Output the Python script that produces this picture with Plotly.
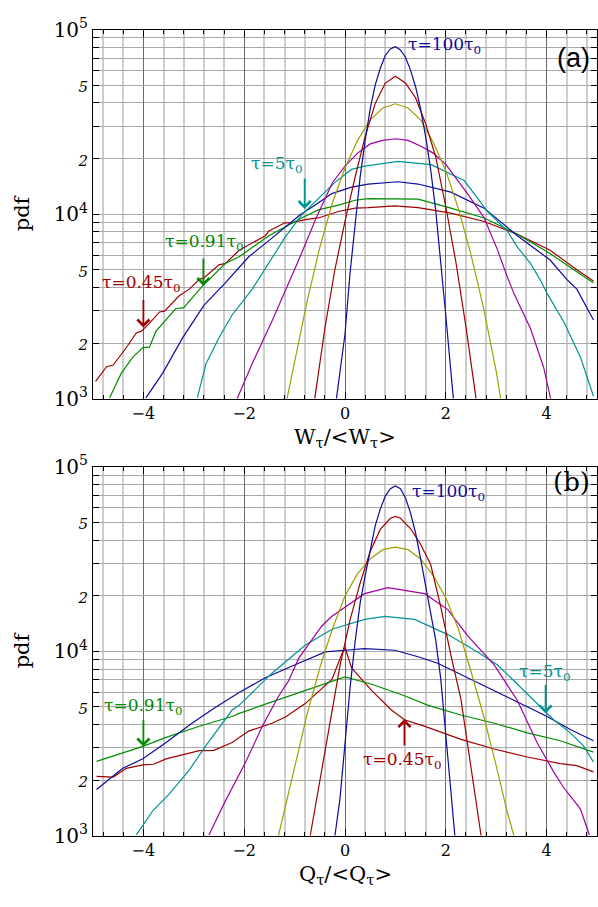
import plotly.graph_objects as go

# -----------------------------
# values (pdf vs W/<W> and Q/<Q>)
# -----------------------------
# panel (a)
wa_045_x = [-4.95, -4.73, -4.6, -4.37, -4.14, -4.04, -3.91, -3.68, -3.58, -3.29, -3.09, -2.89, -2.8, -2.5, -2.37, -2.1, -1.58, -1.51, -1.19, -1.05, -0.79, -0.53, -0.13, 0.2, 0.46, 0.99, 1.45, 2.1, 2.76, 3.42, 4.07, 4.6, 4.93]
wa_045_y = [1240, 1490, 1520, 1840, 2270, 2320, 2510, 2950, 2980, 3610, 3920, 4430, 4510, 5310, 5410, 6370, 7640, 8110, 8970, 9000, 9330, 9530, 10330, 10770, 10840, 11070, 10840, 10120, 9120, 7780, 6370, 4990, 4340]
wa_091_x = [-4.67, -4.44, -4.21, -4.01, -3.88, -3.75, -3.36, -3.2, -2.83, -2.37, -2.1, -1.51, -0.86, -0.53, -0.13, 0.2, 0.46, 0.99, 1.45, 2.1, 2.76, 3.42, 4.07, 4.73, 4.93]
wa_091_y = [1010, 1370, 1680, 1890, 1900, 2320, 3070, 3110, 4075, 5410, 5870, 7640, 9530, 10540, 11190, 11890, 12130, 12140, 12050, 10770, 9530, 7780, 6110, 4600, 4250]
wa_2_x = [-3.95, -3.62, -3.22, -2.8, -2.37, -1.91, -1.51, -1.19, -0.89, -0.59, -0.26, 0.13, 0.46, 1.05, 1.45, 2.1, 2.76, 3.42, 4.07, 4.4, 4.6, 4.93]
wa_2_y = [1010, 1370, 2140, 3200, 4250, 5870, 7180, 8440, 9910, 11190, 12910, 14000, 14550, 14970, 14550, 13150, 10770, 7640, 5640, 4430, 3920, 2670]
wa_5_x = [-2.93, -2.76, -2.5, -2.24, -1.84, -1.48, -1.19, -0.86, -0.53, -0.2, 0.13, 0.39, 1.05, 1.71, 2.37, 2.83, 3.22, 3.42, 3.68, 3.88, 4.01, 4.34, 4.67, 4.93]
wa_5_y = [1010, 1540, 2140, 2840, 3920, 5600, 7480, 9910, 12140, 14860, 17460, 18190, 19320, 18540, 15150, 10330, 8110, 6620, 5410, 4370, 3720, 2610, 1680, 1030]
wa_10_x = [-2.14, -1.84, -1.45, -1.12, -0.92, -0.57, -0.25, 0.0, 0.25, 0.5, 0.75, 1.0, 1.25, 1.5, 1.75, 2.0, 2.25, 2.43, 2.76, 3.02, 3.22, 3.35, 3.68, 3.94, 4.08]
wa_10_y = [1000, 1550, 2630, 4170, 5620, 9550, 14790, 18200, 21400, 24000, 25100, 25600, 25100, 23400, 21400, 18600, 15100, 12900, 9550, 6460, 4570, 3720, 2400, 1480, 1000]
wa_20_x = [-1.15, -1.0, -0.75, -0.5, -0.25, 0.0, 0.25, 0.5, 0.75, 1.0, 1.25, 1.5, 1.75, 2.0, 2.25, 2.5, 2.75, 3.0, 3.09]
wa_20_y = [1000, 1585, 3390, 6610, 11480, 17780, 25100, 32400, 37600, 39600, 37600, 32400, 24500, 17200, 10700, 6030, 3090, 1410, 1000]
wa_50_x = [-0.6, -0.4, -0.2, 0.0, 0.2, 0.4, 0.6, 0.8, 1.0, 1.2, 1.4, 1.6, 1.8, 2.0, 2.2, 2.4, 2.6]
wa_50_y = [1000, 2400, 5010, 9120, 15850, 26300, 39800, 51300, 55900, 51300, 42700, 30900, 20400, 10960, 5500, 2450, 1000]
wa_100_x = [-0.17, -0.1, 0.0, 0.1, 0.2, 0.3, 0.4, 0.5, 0.6, 0.7, 0.8, 0.9, 1.0, 1.1, 1.2, 1.3, 1.4, 1.5, 1.6, 1.7, 1.8, 1.9, 2.0, 2.1, 2.15]
wa_100_y = [1000, 1410, 2240, 4790, 8910, 15850, 25100, 37150, 50100, 61700, 72400, 78500, 80700, 77600, 70800, 60300, 49000, 37150, 26300, 17400, 10470, 5620, 2820, 1410, 1000]

# panel (b)
qb_045_x = [-4.93, -4.6, -4.34, -4.01, -3.8, -3.55, -2.89, -2.6, -2.24, -1.91, -1.45, -1.18, -0.79, -0.26, -0.07, 0.0, 0.13, 0.53, 0.92, 1.18, 1.6, 2.3, 2.96, 3.62, 4.27, 4.6, 4.93]
qb_045_y = [2100, 2080, 2320, 2420, 2440, 2610, 2890, 2900, 3200, 3690, 4070, 4400, 5200, 7030, 9530, 10500, 8110, 6110, 4800, 4250, 3900, 3330, 2950, 2670, 2460, 2400, 2220]
qb_091_x = [-4.93, -4.34, -4.01, -3.55, -2.89, -2.24, -2.1, -1.45, -0.79, -0.39, 0.0, 0.53, 1.18, 1.65, 2.3, 2.96, 3.62, 4.27, 4.93]
qb_091_y = [2530, 2840, 3050, 3410, 3920, 4430, 4600, 5310, 6110, 6620, 7250, 6620, 5740, 5090, 4510, 4070, 3610, 3270, 2840]
qb_2_x = [-4.93, -4.41, -4.01, -3.55, -3.03, -2.56, -2.1, -1.58, -0.92, -0.39, 0.0, 0.39, 0.99, 1.45, 1.84, 2.3, 2.96, 3.62, 4.01, 4.47, 4.93]
qb_2_y = [1780, 2320, 2610, 3200, 4080, 4990, 5980, 7180, 8610, 9910, 10120, 10330, 10120, 9330, 8610, 7480, 6110, 4990, 4430, 3760, 3270]
qb_5_x = [-4.14, -3.81, -3.49, -3.09, -2.76, -2.24, -2.1, -1.45, -0.79, -0.26, 0.39, 0.79, 1.38, 2.04, 2.63, 3.02, 3.29, 3.81, 4.14, 4.47, 4.73, 4.93]
qb_5_y = [1010, 1370, 1680, 2270, 3080, 4800, 5090, 7600, 10770, 13150, 14860, 15450, 14860, 12300, 9910, 8440, 7180, 5200, 4250, 3610, 3080, 2510]
qb_10_x = [-2.7, -2.37, -1.97, -1.64, -1.32, -1.12, -0.92, -0.46, -0.26, 0.39, 0.85, 1.58, 2.04, 2.43, 2.96, 3.42, 3.81, 4.14, 4.34, 4.67, 4.85]
qb_10_y = [1010, 1550, 2510, 3920, 5700, 6900, 9140, 13700, 15450, 20500, 22100, 20500, 16800, 12140, 8430, 5410, 3200, 2220, 1820, 1400, 1010]
qb_20_x = [-1.32, -1.0, -0.75, -0.5, -0.25, 0.0, 0.25, 0.5, 0.75, 1.0, 1.25, 1.5, 1.75, 2.0, 2.25, 2.5, 2.75, 3.0, 3.2, 3.35]
qb_20_y = [1000, 2400, 4570, 8130, 13180, 19950, 26300, 31600, 35500, 36600, 35500, 31600, 25700, 19500, 13180, 7760, 4470, 2400, 1410, 1000]
qb_50_x = [-0.69, -0.5, -0.3, -0.1, 0.1, 0.3, 0.5, 0.7, 0.9, 1.0, 1.1, 1.3, 1.5, 1.7, 1.9, 2.1, 2.3, 2.5, 2.7]
qb_50_y = [1000, 2000, 4170, 8320, 14790, 23400, 34700, 45700, 52500, 53700, 52500, 46200, 38000, 29500, 17400, 9550, 5500, 2400, 1000]
qb_100_x = [-0.2, -0.1, 0.0, 0.1, 0.2, 0.3, 0.4, 0.5, 0.6, 0.7, 0.8, 0.9, 1.0, 1.1, 1.2, 1.3, 1.4, 1.5, 1.6, 1.7, 1.8, 1.9, 2.0, 2.1, 2.18]
qb_100_y = [1000, 1585, 3160, 6310, 11220, 18200, 25700, 35500, 47900, 58900, 69200, 75900, 78500, 75900, 67600, 56200, 43700, 31600, 22400, 15850, 11480, 7080, 3550, 1780, 1000]

RED = '#a00000'
GREEN = '#008c00'
BLUE = '#0c0c9c'
TEAL = '#009494'
PURPLE = '#a000a0'
OLIVE = '#a0a000'
SERIF = 'DejaVu Serif'

panel_a = [(wa_045_x, wa_045_y, RED), (wa_091_x, wa_091_y, GREEN), (wa_2_x, wa_2_y, BLUE),
           (wa_5_x, wa_5_y, TEAL), (wa_10_x, wa_10_y, PURPLE), (wa_20_x, wa_20_y, OLIVE),
           (wa_50_x, wa_50_y, RED), (wa_100_x, wa_100_y, BLUE)]
panel_b = [(qb_045_x, qb_045_y, RED), (qb_091_x, qb_091_y, GREEN), (qb_2_x, qb_2_y, BLUE),
           (qb_5_x, qb_5_y, TEAL), (qb_10_x, qb_10_y, PURPLE), (qb_20_x, qb_20_y, OLIVE),
           (qb_50_x, qb_50_y, RED), (qb_100_x, qb_100_y, BLUE)]

fig = go.Figure()
for xs, ys, c in panel_a:
    fig.add_trace(go.Scatter(x=xs, y=ys, mode='lines', line=dict(color=c, width=1.2),
                             xaxis='x', yaxis='y', showlegend=False, hoverinfo='skip'))
for xs, ys, c in panel_b:
    fig.add_trace(go.Scatter(x=xs, y=ys, mode='lines', line=dict(color=c, width=1.2),
                             xaxis='x2', yaxis='y2', showlegend=False, hoverinfo='skip'))

# -----------------------------
# axes
# -----------------------------
H = 907.0
W = 598.0
L = 93.0
ytick_vals = [1000, 2000, 5000, 10000, 20000, 50000, 100000]
ytick_text = ['10<sup>3</sup>', '<span style="font-size:15px"><i>2</i></span>',
              '<span style="font-size:15px"><i>5</i></span>', '10<sup>4</sup>',
              '<span style="font-size:15px"><i>2</i></span>',
              '<span style="font-size:15px"><i>5</i></span>', '10<sup>5</sup>']

xaxis_common = dict(range=[-5, 5], dtick=2, tick0=0, showgrid=True, gridcolor='#6a6a6a', gridwidth=1,
                    zeroline=False, showline=True, linecolor='black', linewidth=1, mirror='ticks',
                    ticks='inside', ticklen=7, tickcolor='black',
                    minor=dict(dtick=0.4, tick0=0, showgrid=True, gridcolor='#cdcdcd', gridwidth=1.6,
                               ticks='inside', ticklen=4, tickcolor='black'),
                    tickfont=dict(family=SERIF, size=16, color='black'), fixedrange=True)
yaxis_common = dict(type='log', range=[3, 5], tickvals=ytick_vals, ticktext=ytick_text,
                    showgrid=True, gridcolor='#a8a8a8', gridwidth=1, zeroline=False,
                    showline=True, linecolor='black', linewidth=1, mirror='ticks',
                    ticks='inside', ticklen=6, tickcolor='black',
                    minor=dict(dtick='D1', showgrid=True, gridcolor='#a8a8a8', gridwidth=1,
                               ticks='inside', ticklen=6, tickcolor='black'),
                    tickfont=dict(family=SERIF, size=20, color='black'), fixedrange=True)

fig.update_layout(
    width=598, height=907,
    margin=dict(l=93, r=0, t=0, b=0),
    paper_bgcolor='white', plot_bgcolor='white',
    xaxis=dict(xaxis_common, domain=[0, 1], anchor='y'),
    yaxis=dict(yaxis_common, domain=[(H - 396) / H, (H - 16) / H], anchor='x'),
    xaxis2=dict(xaxis_common, domain=[0, 1], anchor='y2'),
    yaxis2=dict(yaxis_common, domain=[(H - 846) / H, (H - 466) / H], anchor='x2'),
)

# dark line at 10^4
for xr, yr in [('x', 'y'), ('x2', 'y2')]:
    fig.add_shape(type='line', xref=xr + ' domain', yref=yr, x0=0, x1=1, y0=4, y1=4,
                  line=dict(color='#555555', width=1), layer='below')

# -----------------------------
# labels and arrows
# -----------------------------
def label(text, x, ly, color, xr, yr, size=17):
    fig.add_annotation(text=text, x=x, y=ly, xref=xr, yref=yr, xanchor='left', yanchor='middle',
                       showarrow=False, font=dict(family=SERIF, size=size, color=color))

def arrow(x, ly, dy, color, xr, yr):
    fig.add_annotation(text='', x=x, y=ly, xref=xr, yref=yr, showarrow=True, ax=0, ay=dy,
                       arrowhead=4, arrowsize=1.3, arrowwidth=1.8, arrowcolor=color)

tau = '\u03c4'
label(f'{tau}=100{tau}<sub>0</sub>', 1.21, 4.911, BLUE, 'x', 'y')
label(f'{tau}=5{tau}<sub>0</sub>', -1.91, 4.268, TEAL, 'x', 'y')
label(f'{tau}=0.91{tau}<sub>0</sub>', -3.62, 3.847, GREEN, 'x', 'y')
label(f'{tau}=0.45{tau}<sub>0</sub>', -4.87, 3.625, RED, 'x', 'y')
arrow(-0.80, 4.028, -32, TEAL, 'x', 'y')
arrow(-2.81, 3.611, -29, GREEN, 'x', 'y')
arrow(-4.0, 3.386, -29, RED, 'x', 'y')

label(f'{tau}=100{tau}<sub>0</sub>', 1.28, 4.86, BLUE, 'x2', 'y2')
label(f'{tau}=5{tau}<sub>0</sub>', 3.42, 3.883, TEAL, 'x2', 'y2')
label(f'{tau}=0.91{tau}<sub>0</sub>', -4.83, 3.698, GREEN, 'x2', 'y2')
label(f'{tau}=0.45{tau}<sub>0</sub>', 0.32, 3.409, RED, 'x2', 'y2')
arrow(3.98, 3.663, -30, TEAL, 'x2', 'y2')
arrow(-4.0, 3.484, -28, GREEN, 'x2', 'y2')
arrow(1.18, 3.632, 28, RED, 'x2', 'y2')

fig.add_annotation(text='(a)', x=0.99, y=(H - 45) / H, xref='paper', yref='paper', xanchor='right',
                   yanchor='middle', showarrow=False, font=dict(family='Liberation Sans', size=27, color='black'))
fig.add_annotation(text='(b)', x=0.99, y=(H - 482) / H, xref='paper', yref='paper', xanchor='right',
                   yanchor='middle', showarrow=False, font=dict(family=SERIF, size=26, color='black'))

# axis titles (paper x is measured over the plot width, so convert from page pixels)
for yc in [205, 655]:
    fig.add_annotation(text='pdf', x=(22 - L) / (W - L), y=(H - yc) / H, xref='paper', yref='paper',
                       textangle=-90, xanchor='center', yanchor='middle', showarrow=False,
                       font=dict(family=SERIF, size=21, color='black'))
fig.add_annotation(text='W<sub>' + tau + '</sub>/&lt;W<sub>' + tau + '</sub>&gt;', x=0.5, y=(H - 436) / H,
                   xref='paper', yref='paper', xanchor='center', yanchor='middle', showarrow=False,
                   font=dict(family=SERIF, size=21, color='black'))
fig.add_annotation(text='Q<sub>' + tau + '</sub>/&lt;Q<sub>' + tau + '</sub>&gt;', x=0.5, y=(H - 886) / H,
                   xref='paper', yref='paper', xanchor='center', yanchor='middle', showarrow=False,
                   font=dict(family=SERIF, size=21, color='black'))

# page margin off so the figure sits at the window corner
fig.write_html('out.html', config={'displayModeBar': False},
               post_script="document.body.style.margin='0';document.body.style.overflow='hidden';")
